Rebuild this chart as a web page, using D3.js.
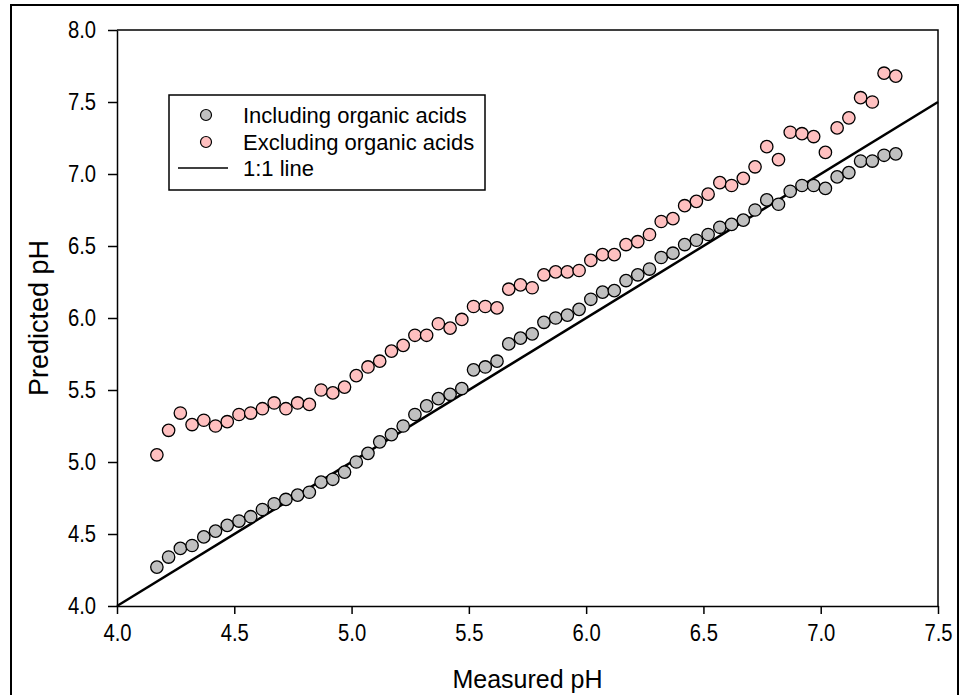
<!DOCTYPE html>
<html>
<head>
<meta charset="utf-8">
<script src="https://cdn.jsdelivr.net/npm/d3@7"></script>
<style>
  body { margin: 0; background: #fff; }
  text { font-family: "Liberation Sans", Arial, sans-serif; }
</style>
</head>
<body>
<div id="chart"></div>
<script>
// measured pH (shared by both series)
const measured = [4.17, 4.22, 4.27, 4.32, 4.37, 4.42, 4.47, 4.52, 4.57, 4.62, 4.67, 4.72, 4.77,
    4.82, 4.87, 4.92, 4.97, 5.02, 5.07, 5.12, 5.17, 5.22, 5.27, 5.32, 5.37, 5.42,
    5.47, 5.52, 5.57, 5.62, 5.67, 5.72, 5.77, 5.82, 5.87, 5.92, 5.97, 6.02, 6.07,
    6.12, 6.17, 6.22, 6.27, 6.32, 6.37, 6.42, 6.47, 6.52, 6.57, 6.62, 6.67, 6.72,
    6.77, 6.82, 6.87, 6.92, 6.97, 7.02, 7.07, 7.12, 7.17, 7.22, 7.27, 7.32];

const including = [4.27, 4.34, 4.40, 4.42, 4.48, 4.52, 4.56, 4.59, 4.62, 4.67, 4.71, 4.74, 4.77,
    4.79, 4.86, 4.88, 4.93, 5.00, 5.06, 5.14, 5.19, 5.25, 5.33, 5.39, 5.44, 5.47,
    5.51, 5.64, 5.66, 5.70, 5.82, 5.86, 5.89, 5.97, 6.00, 6.02, 6.06, 6.13, 6.18,
    6.19, 6.26, 6.30, 6.34, 6.42, 6.45, 6.51, 6.54, 6.58, 6.63, 6.65, 6.68, 6.75,
    6.82, 6.79, 6.88, 6.92, 6.92, 6.90, 6.98, 7.01, 7.09, 7.09, 7.13, 7.14];

const excluding = [5.05, 5.22, 5.34, 5.26, 5.29, 5.25, 5.28, 5.33, 5.34, 5.37, 5.41, 5.37, 5.41,
    5.40, 5.50, 5.48, 5.52, 5.60, 5.66, 5.70, 5.77, 5.81, 5.88, 5.88, 5.96, 5.93,
    5.99, 6.08, 6.08, 6.07, 6.20, 6.23, 6.21, 6.30, 6.32, 6.32, 6.33, 6.40, 6.44,
    6.44, 6.51, 6.53, 6.58, 6.67, 6.69, 6.78, 6.81, 6.86, 6.94, 6.92, 6.97, 7.05,
    7.19, 7.10, 7.29, 7.28, 7.26, 7.15, 7.32, 7.39, 7.53, 7.50, 7.70, 7.68];

const xTicks = [4.0, 4.5, 5.0, 5.5, 6.0, 6.5, 7.0, 7.5];
const yTicks = [4.0, 4.5, 5.0, 5.5, 6.0, 6.5, 7.0, 7.5, 8.0];
const oneToOne = [4.0, 7.5];

const seriesNames = ["Including organic acids", "Excluding organic acids", "1:1 line"];
const seriesColors = ["#c0c0c0", "#ffc0c0"];

let W = 961, H = 695;
let margin = { top: 30, right: 23, bottom: 89, left: 117 },
    width = W - margin.left - margin.right,
    height = H - margin.top - margin.bottom;

let root = d3.select("#chart").append("svg")
    .attr("width", W)
    .attr("height", H);

// outer frame of the figure
root.append("rect")
    .attr("x", 11).attr("y", 5)
    .attr("width", 947).attr("height", 700)
    .attr("fill", "none")
    .attr("stroke", "#000")
    .attr("stroke-width", 2);

let svg = root.append("g")
    .attr("transform", "translate(" + margin.left + "," + margin.top + ")");

let x = d3.scaleLinear().domain([4, 7.5]).range([0, width]);
let y = d3.scaleLinear().domain([4, 8]).range([height, 0]);

// top and right frame lines
svg.append("path")
    .attr("d", "M0,0H" + width + "V" + height)
    .attr("fill", "none")
    .attr("stroke", "#000")
    .attr("stroke-width", 1.5);

let xAxis = svg.append("g")
    .attr("transform", "translate(0," + height + ")")
    .call(d3.axisBottom(x).tickValues(xTicks).tickFormat(d3.format(".1f"))
        .tickSize(8).tickPadding(11).tickSizeOuter(0));

let yAxis = svg.append("g")
    .call(d3.axisLeft(y).tickValues(yTicks).tickFormat(d3.format(".1f"))
        .tickSize(9).tickPadding(10).tickSizeOuter(0));

[xAxis, yAxis].forEach(function(a) {
    a.select(".domain").attr("stroke-width", 1.5);
    a.selectAll(".tick line").attr("stroke-width", 1.5);
    a.selectAll("text")
        .style("font-family", "Liberation Sans, Arial, sans-serif")
        .style("font-size", "23px")
        .attr("fill", "#000");
});
// tick labels in the source are a bit narrow
xAxis.selectAll(".tick text").attr("transform", "scale(0.88,1)");
yAxis.selectAll(".tick text")
    .attr("x", -21 / 0.88)
    .attr("transform", "scale(0.88,1)");

// 1:1 line
svg.append("line")
    .attr("x1", x(oneToOne[0])).attr("y1", y(oneToOne[0]))
    .attr("x2", x(oneToOne[1])).attr("y2", y(oneToOne[1]))
    .attr("stroke", "#000")
    .attr("stroke-width", 2.5);

// points
[including, excluding].forEach(function(vals, s) {
    svg.append("g").selectAll("circle")
        .data(vals)
        .enter()
        .append("circle")
        .attr("cx", (d, i) => x(measured[i]))
        .attr("cy", d => y(d))
        .attr("r", 6.2)
        .attr("fill", seriesColors[s])
        .attr("stroke", "#000")
        .attr("stroke-width", 1.3);
});

// axis titles
svg.append("text")
    .attr("x", width / 2)
    .attr("y", height + 82)
    .style("text-anchor", "middle")
    .style("font-size", "25px")
    .text("Measured pH");

svg.append("text")
    .attr("transform", "rotate(-90)")
    .attr("x", -height / 2)
    .attr("y", 48 - margin.left)
    .style("text-anchor", "middle")
    .style("font-size", "27px")
    .text("Predicted pH");

// legend
let legend = root.append("g");
legend.append("rect")
    .attr("x", 169).attr("y", 95)
    .attr("width", 316).attr("height", 95)
    .attr("fill", "#fff")
    .attr("stroke", "#000")
    .attr("stroke-width", 1.5);

let rowY = [115, 142, 168];
seriesNames.forEach(function(name, i) {
    if (i < 2) {
        legend.append("circle")
            .attr("cx", 206).attr("cy", rowY[i])
            .attr("r", 5.5)
            .attr("fill", seriesColors[i])
            .attr("stroke", "#000")
            .attr("stroke-width", 1.2);
    } else {
        legend.append("line")
            .attr("x1", 178).attr("x2", 228)
            .attr("y1", rowY[i]).attr("y2", rowY[i])
            .attr("stroke", "#000")
            .attr("stroke-width", 1.5);
    }
    legend.append("text")
        .attr("x", 243)
        .attr("y", rowY[i])
        .attr("dy", "0.35em")
        .style("font-size", "22px")
        .text(name);
});
</script>
</body>
</html>
